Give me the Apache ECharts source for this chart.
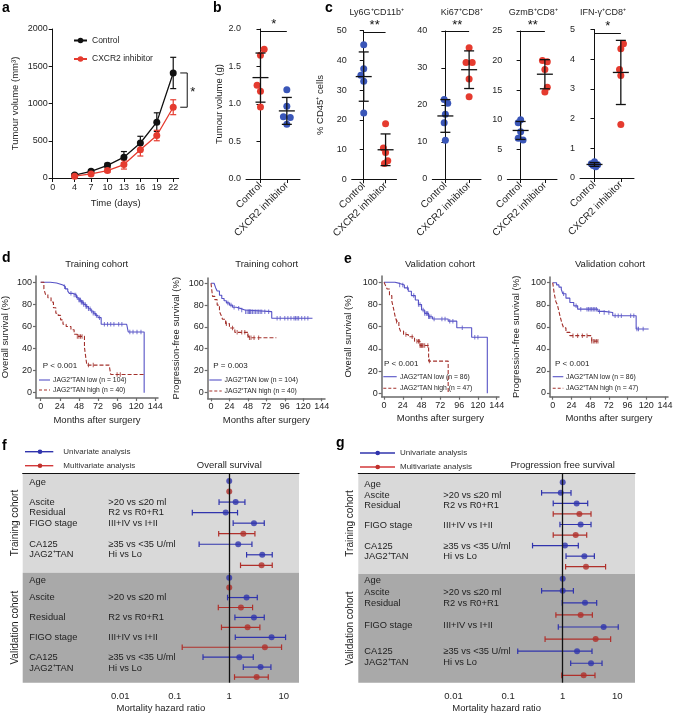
<!DOCTYPE html>
<html><head><meta charset="utf-8"><title>Figure</title>
<script src="https://cdn.jsdelivr.net/npm/echarts@6.0.0/dist/echarts.min.js"></script>
<style>html,body{margin:0;padding:0;background:#fff;}#chart{width:673px;height:715px;}</style>
</head><body><div id="chart"></div>
<script>
const FONT = '"Liberation Sans", Arial, Helvetica, sans-serif';
const TXT = '#1e1e1e';
const RED = '#e53b2f', BLUE = '#3a56b8';
const KM_BLUE = '#5652c6', KM_RED = '#a3302b';
const F_BLUE = '#3034ad', F_RED = '#b0302b';

// ---------------- DATA ----------------
// Panel a: tumour growth
const aDays = [4, 7, 10, 13, 16, 19, 22];
const aXTicks = [0, 4, 7, 10, 13, 16, 19, 22];
const aControl = [40, 90, 170, 280, 470, 750, 1410];
const aControlErr = [20, 22, 28, 75, 90, 125, 210];
const aInhib = [25, 55, 100, 180, 380, 570, 950];
const aInhibErr = [15, 18, 25, 60, 85, 70, 100];

// Panel b / c: dot plots
const groups = ['Control', 'CXCR2 inhibitor'];
const bControl = [1.73, 1.65, 1.25, 1.17, 0.96];
const bControlJ = [0.14, 0, -0.13, 0, 0];
const bInhib = [1.19, 0.97, 0.83, 0.82, 0.73];
const bInhibJ = [0, 0, -0.13, 0.13, 0];
const cTitles = ['Ly6G⁺CD11b⁺', 'Ki67⁺CD8⁺', 'GzmB⁺CD8⁺', 'IFN-γ⁺CD8⁺'];
const c1Control = [45.3, 37.2, 35.0, 33.0, 22.3], c1ControlJ = [0, 0, -0.13, 0, 0];
const c1Inhib = [18.7, 10.5, 9.0, 6.2, 5.3], c1InhibJ = [0, -0.1, 0, 0.1, -0.05];
const c2Control = [21.5, 20.5, 17.5, 15.2, 10.5], c2ControlJ = [-0.05, 0.1, 0, -0.05, 0];
const c2Inhib = [35.5, 31.5, 31.5, 27.0, 22.2], c2InhibJ = [0, -0.13, 0.13, 0, 0];
const c3Control = [10.0, 9.5, 8.0, 6.9, 6.6], c3ControlJ = [0, -0.1, 0, -0.1, 0.1];
const c3Inhib = [20.0, 19.8, 18.5, 15.5, 14.7], c3InhibJ = [-0.1, 0.1, 0, 0.1, 0];
const c4Control = [0.55, 0.48, 0.45, 0.42, 0.38], c4ControlJ = [0, -0.12, 0.12, -0.05, 0.05];
const c4Inhib = [4.52, 4.35, 3.65, 3.45, 1.80], c4InhibJ = [0.1, 0, -0.05, 0, 0];

// Panels d / e: Kaplan-Meier curves [month, survival %]
const kmXTicks = [0, 24, 48, 72, 96, 120, 144];
const kmYTicks = [0, 20, 40, 60, 80, 100];
const d1Low = [[0,100],[12,99.3],[20,98.5],[24,97.5],[28,96],[31,94],[34,92],[36,90],[40,88.5],[45,86],[48,84],[51,82],[54,80],[57,78],[60,76],[63,74],[66,72],[69,70],[72,68],[76,62],[108,62],[110,55],[130,55],[130,0]];
const d1High = [[0,100],[4,94],[6,89],[9,86],[13,82],[16,77],[19,72],[22,70],[25,66],[28,62],[32,60],[38,57],[42,53],[46,51],[55,41],[57,30],[58,25],[86,25],[88,16.5],[130,16.5]];
const d1LowCens = [30,38,42,44,46,48,49,50,51,52,53,54,56,57,58,60,62,64,66,68,70,74,80,84,88,92,98,102,112,116,121,126];
const d1HighCens = [46,48,50,52,60,66,96,100];
const d2Low = [[0,100],[4,98.5],[6,96],[8,93],[11,89],[14,86],[17,84],[20,82],[24,80],[28,78],[33,77],[38,75.5],[44,74],[79,68],[132,68]];
const d2High = [[0,100],[1,94],[2,88],[5,85],[8,80],[11,74],[13,71],[15,67],[19,63],[24,59],[31,55],[48,52],[50,50],[85,50]];
const d2LowCens = [22,26,30,36,40,45,47,49,50,51,52,54,56,58,60,62,64,66,70,75,86,90,96,100,104,108,110,112,114,118,122,126];
const d2HighCens = [20,28,34,40,44,48,50,52,56,62];
const e1Low = [[0,100],[14,99],[20,97.5],[26,95],[31,92],[35,88],[40,84],[44,80],[48,75],[52,72],[57,69],[62,67],[82,65],[93,59],[112,50.5],[132,50.5],[132,0]];
const e1High = [[0,100],[2,97],[4,94],[7,88],[10,83],[12,77],[14,70],[16,65],[19,60],[21,56],[25,53],[31,51],[39,47],[46,43],[57,29],[82,29],[82,0]];
const e1LowCens = [20,24,30,38,44,46,50,52,54,55,56,57,58,60,64,74,78,84,88,100,116,120];
const e1HighCens = [16,28,36,42,44,45,46,47,48,49,50,52,56,58];
const e2Low = [[0,100],[5,98],[8,96],[11,94],[13,90],[17,86],[22,82],[27,79],[32,76],[58,74],[66,73],[77,70],[107,58],[123,58]];
const e2High = [[0,100],[1,95],[2,90],[4,83],[6,80],[8,74],[10,68],[12,63],[14,59],[17,55],[22,52],[50,47],[60,47]];
const e2LowCens = [14,30,36,44,46,48,50,52,54,56,60,66,72,80,84,88,100,104,108,110,116];
const e2HighCens = [26,32,38,44,50,52,54,56,58];

// Panels f / g: forest plots [row, HR, lower, upper]
const fTrainUni = [[0,1.00,1.00,1.00],[2,1.31,0.65,1.94],[3,0.86,0.21,1.42],[4,2.84,1.18,4.39],[6,1.46,0.28,2.61],[7,4.03,2.08,6.15]];
const fTrainMulti = [[1,1.00,1.00,1.00],[5,1.81,0.64,2.96],[8,3.92,1.61,6.15]];
const fValUni = [[0,1.00,1.00,1.00],[2,2.08,0.93,3.27],[4,2.84,1.27,4.39],[6,5.98,1.29,10.8],[8,1.53,0.33,2.76],[9,3.76,1.81,5.82]];
const fValMulti = [[1,1.00,1.00,1.00],[3,1.64,0.63,2.68],[5,2.17,0.72,3.65],[7,4.51,0.137,9.12],[10,3.18,1.25,5.20]];
const gTrainUni = [[0,1.00,1.00,1.00],[1,0.92,0.41,1.42],[2,1.80,0.67,2.87],[4,2.13,0.89,3.30],[6,1.10,0.28,1.93],[7,2.49,1.15,3.80]];
const gTrainMulti = [[3,2.02,0.67,3.30],[5,1.73,0.67,2.75],[8,2.67,1.13,6.10]];
const gValUni = [[0,1.00,1.00,1.00],[1,1.00,0.41,1.57],[2,2.56,0.98,4.19],[4,5.62,0.83,10.4],[6,1.83,0.15,3.44],[7,3.30,1.40,5.25]];
const gValMulti = [[3,2.13,0.75,3.49],[5,4.01,0.475,7.55],[8,2.42,0.96,3.90]];
const fLabelsTrain = [['Age','',0.1],['Ascite','>20 vs ≤20 ml',2],['Residual','R2 vs R0+R1',3],['FIGO stage','III+IV vs I+II',4],['CA125','≥35 vs <35 U/ml',6],['JAG2⁺TAN','Hi vs Lo',7]];
const fLabelsVal = [['Age','',0.25],['Ascite','>20 vs ≤20 ml',2],['Residual','R2 vs R0+R1',4],['FIGO stage','III+IV vs I+II',6],['CA125','≥35 vs <35 U/ml',8],['JAG2⁺TAN','Hi vs Lo',9.1]];
const gLabelsTrain = [['Age','',0.2],['Ascite','>20 vs ≤20 ml',1.2],['Residual','R2 vs R0+R1',2.2],['FIGO stage','III+IV vs I+II',4.1],['CA125','≥35 vs <35 U/ml',6.05],['JAG2⁺TAN','Hi vs Lo',7.05]];
const gLabelsVal = [['Age','',0.15],['Ascite','>20 vs ≤20 ml',1.1],['Residual','R2 vs R0+R1',2.05],['FIGO stage','III+IV vs I+II',3.9],['CA125','≥35 vs <35 U/ml',6.0],['JAG2⁺TAN','Hi vs Lo',6.95]];

// ---------------- BUILD ----------------
const grids = [], xAxes = [], yAxes = [], series = [];
function addGrid(L, T, R, B, extra) {
  grids.push(Object.assign({left: L, top: T, width: R - L, height: B - T, containLabel: false, outerBoundsMode: 'none'}, extra || {}));
  return grids.length - 1;
}
const lbl = o => Object.assign({fontSize: 9, color: TXT, fontFamily: FONT}, o || {});
const blackLine = {color: '#111', width: 1};
const plain = v => String(v);

// ---- Panel a ----
const gA = addGrid(52.7, 29, 178.7, 178);
xAxes.push({gridIndex: gA, type: 'value', min: 0, max: 23,
  axisLine: {show: true, onZero: false, lineStyle: blackLine},
  axisTick: {show: true, customValues: aXTicks, length: 4, lineStyle: blackLine},
  axisLabel: lbl({customValues: aXTicks, margin: 5, formatter: plain}), splitLine: {show: false},
  name: 'Time (days)', nameLocation: 'middle', nameGap: 20, nameTextStyle: lbl({fontSize: 9.5})});
yAxes.push({gridIndex: gA, type: 'value', min: 0, max: 2000, interval: 500,
  axisLine: {show: true, lineStyle: blackLine}, axisTick: {show: true, length: 4, lineStyle: blackLine},
  axisLabel: lbl({margin: 5, formatter: plain}), splitLine: {show: false},
  name: 'Tumour volume (mm³)', nameLocation: 'middle', nameGap: 32, nameTextStyle: lbl({fontSize: 9.5})});
function errSeries(g, xs, ys, es, color) {
  return {type: 'custom', xAxisIndex: g, yAxisIndex: g, z: 2, silent: true,
    data: xs.map((x, i) => [x, ys[i] - es[i], ys[i] + es[i]]),
    encode: {x: 0, y: [1, 2]},
    renderItem: (p, api) => {
      const a = api.coord([api.value(0), api.value(1)]), b = api.coord([api.value(0), api.value(2)]);
      const w = 3, st = {stroke: color, lineWidth: 1.2};
      return {type: 'group', children: [
        {type: 'line', shape: {x1: a[0], y1: a[1], x2: b[0], y2: b[1]}, style: st},
        {type: 'line', shape: {x1: a[0] - w, y1: a[1], x2: a[0] + w, y2: a[1]}, style: st},
        {type: 'line', shape: {x1: b[0] - w, y1: b[1], x2: b[0] + w, y2: b[1]}, style: st}]};
    }};
}
series.push(errSeries(gA, aDays, aControl, aControlErr, '#111'));
series.push(errSeries(gA, aDays, aInhib, aInhibErr, RED));
series.push({type: 'line', name: 'Control', xAxisIndex: gA, yAxisIndex: gA, z: 3,
  data: aDays.map((d, i) => [d, aControl[i]]), symbol: 'circle', symbolSize: 7,
  itemStyle: {color: '#111'}, lineStyle: {color: '#111', width: 1.3}});
series.push({type: 'line', name: 'CXCR2 inhibitor', xAxisIndex: gA, yAxisIndex: gA, z: 3,
  data: aDays.map((d, i) => [d, aInhib[i]]), symbol: 'circle', symbolSize: 7,
  itemStyle: {color: RED}, lineStyle: {color: RED, width: 1.3}});

// ---- Panels b / c ----
function meanSd(a) {
  const m = a.reduce((s, v) => s + v, 0) / a.length;
  const sd = Math.sqrt(a.reduce((s, v) => s + (v - m) * (v - m), 0) / (a.length - 1));
  return [m, sd];
}
function dotPanel(o) {
  const g = addGrid(o.L, o.T, o.R, o.B);
  xAxes.push({gridIndex: g, type: 'value', min: -0.55, max: 1.5,
    axisLine: {show: true, onZero: false, lineStyle: blackLine},
    axisTick: {show: true, customValues: [0, 1], length: 4, lineStyle: blackLine},
    axisLabel: lbl({customValues: [0, 1], rotate: 45, fontSize: 10, margin: 5, formatter: v => groups[Math.round(v)]}),
    splitLine: {show: false}});
  yAxes.push({gridIndex: g, type: 'value', min: 0, max: o.yMax, interval: o.yInt,
    axisLine: {show: true, lineStyle: blackLine}, axisTick: {show: true, length: 4, lineStyle: blackLine},
    axisLabel: lbl({margin: 5, formatter: o.fmt || plain}), splitLine: {show: false},
    name: o.yName || '', nameLocation: 'middle', nameGap: o.nameGap || 25, nameTextStyle: lbl({fontSize: 9.5})});
  const sets = [[o.ctrl, o.ctrlJ, o.ctrlColor], [o.inh, o.inhJ, o.inhColor]];
  sets.forEach((s, k) => {
    const ser = {type: 'scatter', xAxisIndex: g, yAxisIndex: g, symbolSize: 7, z: 2,
      itemStyle: {color: s[2], opacity: 1}, data: s[0].map((v, i) => [k + s[1][i], v])};
    if (k === 0) ser.markLine = {silent: true, symbol: ['none', 'none'], animation: false,
      lineStyle: {color: '#111', width: 1, type: 'solid'},
      label: {show: true, position: 'middle', formatter: o.sig, fontSize: 13, color: '#111', distance: 0, fontFamily: FONT},
      data: [[{coord: [0, o.sigY]}, {coord: [1, o.sigY]}]]};
    series.push(ser);
  });
  series.push({type: 'custom', xAxisIndex: g, yAxisIndex: g, z: 4, silent: true,
    data: sets.map((s, k) => { const r = meanSd(s[0]); return [k, r[0], r[0] - r[1], r[0] + r[1]]; }),
    encode: {x: 0, y: [1, 2, 3]},
    renderItem: (p, api) => {
      const m = api.coord([api.value(0), api.value(1)]);
      const lo = api.coord([api.value(0), api.value(2)]), hi = api.coord([api.value(0), api.value(3)]);
      const st = {stroke: '#111', lineWidth: 1.3};
      return {type: 'group', children: [
        {type: 'line', shape: {x1: lo[0], y1: lo[1], x2: hi[0], y2: hi[1]}, style: st},
        {type: 'line', shape: {x1: m[0] - 8, y1: m[1], x2: m[0] + 8, y2: m[1]}, style: st},
        {type: 'line', shape: {x1: lo[0] - 5, y1: lo[1], x2: lo[0] + 5, y2: lo[1]}, style: st},
        {type: 'line', shape: {x1: hi[0] - 5, y1: hi[1], x2: hi[0] + 5, y2: hi[1]}, style: st}]};
    }});
}
dotPanel({L: 246, T: 29, R: 300, B: 179, yMax: 2, yInt: 0.5, fmt: v => v.toFixed(1), yName: 'Tumour volume (g)', nameGap: 21,
  ctrl: bControl, ctrlJ: bControlJ, inh: bInhib, inhJ: bInhibJ, ctrlColor: RED, inhColor: BLUE, sig: '*', sigY: 1.97});
dotPanel({L: 351.7, T: 30.7, R: 396.5, B: 179.3, yMax: 50, yInt: 10, yName: '% CD45⁺ cells', nameGap: 26,
  ctrl: c1Control, ctrlJ: c1ControlJ, inh: c1Inhib, inhJ: c1InhibJ, ctrlColor: BLUE, inhColor: RED, sig: '**', sigY: 49.5});
dotPanel({L: 432.3, T: 31, R: 481, B: 179, yMax: 40, yInt: 10,
  ctrl: c2Control, ctrlJ: c2ControlJ, inh: c2Inhib, inhJ: c2InhibJ, ctrlColor: BLUE, inhColor: RED, sig: '**', sigY: 39.8});
dotPanel({L: 507.3, T: 31, R: 557, B: 179, yMax: 25, yInt: 5,
  ctrl: c3Control, ctrlJ: c3ControlJ, inh: c3Inhib, inhJ: c3InhibJ, ctrlColor: BLUE, inhColor: RED, sig: '**', sigY: 24.9});
dotPanel({L: 580, T: 29.5, R: 634, B: 178, yMax: 5, yInt: 1,
  ctrl: c4Control, ctrlJ: c4ControlJ, inh: c4Inhib, inhJ: c4InhibJ, ctrlColor: BLUE, inhColor: RED, sig: '*', sigY: 4.88});

// ---- Panels d / e ----
function stepAt(curve, t) { let v = curve[0][1]; for (const p of curve) { if (p[0] <= t) v = p[1]; else break; } return v; }
function kmPanel(o) {
  const g = addGrid(o.L, o.T, o.R, o.B);
  const ppx = (o.x144 - o.x0) / 144, ppy = (o.y0 - o.y100) / 100;
  const gray = {color: '#6a6a6a', width: 1.5};
  xAxes.push({gridIndex: g, type: 'value', min: -(o.x0 - o.L) / ppx, max: 144 + (o.R - o.x144) / ppx,
    axisLine: {show: true, onZero: false, lineStyle: gray},
    axisTick: {show: true, customValues: kmXTicks, length: 3, lineStyle: {color: '#6a6a6a', width: 1.2}},
    axisLabel: lbl({customValues: kmXTicks, margin: 4, formatter: plain}), splitLine: {show: false},
    name: 'Months after surgery', nameLocation: 'middle', nameGap: 17, nameTextStyle: lbl({fontSize: 9.5})});
  yAxes.push({gridIndex: g, type: 'value', min: -(o.B - o.y0) / ppy, max: 100 + (o.y100 - o.T) / ppy,
    axisLine: {show: true, onZero: false, lineStyle: gray},
    axisTick: {show: true, customValues: kmYTicks, length: 3, lineStyle: {color: '#6a6a6a', width: 1.2}},
    axisLabel: lbl({customValues: kmYTicks, margin: 4, formatter: plain}), splitLine: {show: false},
    name: o.yName, nameLocation: 'middle', nameGap: o.nameGap, nameTextStyle: lbl({fontSize: 9.5})});
  series.push({type: 'line', xAxisIndex: g, yAxisIndex: g, step: 'end', symbol: 'none', data: o.low,
    lineStyle: {color: KM_BLUE, width: 1.1}, z: 3, silent: true});
  series.push({type: 'line', xAxisIndex: g, yAxisIndex: g, step: 'end', symbol: 'none', data: o.high,
    lineStyle: {color: KM_RED, width: 1.1, type: [4, 2]}, z: 3, silent: true});
  series.push({type: 'scatter', xAxisIndex: g, yAxisIndex: g, symbol: 'rect', symbolSize: [1, 4.5], silent: true, z: 4,
    itemStyle: {color: KM_BLUE}, data: o.lowC.map(t => [t, stepAt(o.low, t)])});
  series.push({type: 'scatter', xAxisIndex: g, yAxisIndex: g, symbol: 'rect', symbolSize: [1, 4.5], silent: true, z: 4,
    itemStyle: {color: KM_RED}, data: o.highC.map(t => [t, stepAt(o.high, t)])});
}
kmPanel({L: 36, T: 276, R: 158, B: 398, x0: 40.7, x144: 155.3, y100: 282.3, y0: 392.7, yName: 'Overall survival (%)', nameGap: 25.5,
  low: d1Low, high: d1High, lowC: d1LowCens, highC: d1HighCens});
kmPanel({L: 207.7, T: 278, R: 325, B: 398.3, x0: 211, x144: 321.7, y100: 283.3, y0: 392.3, yName: 'Progression-free survival (%)', nameGap: 26,
  low: d2Low, high: d2High, lowC: d2LowCens, highC: d2HighCens});
kmPanel({L: 381.7, T: 276, R: 499, B: 396.7, x0: 384, x144: 496.7, y100: 282.3, y0: 393.3, yName: 'Overall survival (%)', nameGap: 28.5,
  low: e1Low, high: e1High, lowC: e1LowCens, highC: e1HighCens});
kmPanel({L: 550, T: 277, R: 668, B: 396.7, x0: 552.7, x144: 665, y100: 282.7, y0: 393, yName: 'Progression-free survival (%)', nameGap: 28.5,
  low: e2Low, high: e2High, lowC: e2LowCens, highC: e2HighCens});

// ---- Panels f / g ----
const hrLabels = {'-2': '0.01', '-1': '0.1', '0': '1', '1': '10'};
function ciSeries(g, data, color) {
  return {type: 'custom', xAxisIndex: g, yAxisIndex: g, z: 2, silent: true,
    data: data.map(d => [d[1], d[0], d[2], d[3]]), encode: {x: [0, 2, 3], y: 1},
    renderItem: (p, api) => {
      if (api.value(2) === api.value(3)) return {type: 'group', children: []};
      const a = api.coord([api.value(2), api.value(1)]), b = api.coord([api.value(3), api.value(1)]);
      const h = 2.8, st = {stroke: color, lineWidth: 1.2};
      return {type: 'group', children: [
        {type: 'line', shape: {x1: a[0], y1: a[1], x2: b[0], y2: b[1]}, style: st},
        {type: 'line', shape: {x1: a[0], y1: a[1] - h, x2: a[0], y2: a[1] + h}, style: st},
        {type: 'line', shape: {x1: b[0], y1: b[1] - h, x2: b[0], y2: b[1] + h}, style: st}]};
    }};
}
function forestGrid(o) {
  const g = addGrid(o.L, o.T, o.R, o.B, {show: true, backgroundColor: o.bg, borderWidth: 0});
  xAxes.push({gridIndex: g, type: 'log', logBase: 10, min: Math.pow(10, o.logMin), max: Math.pow(10, o.logMax),
    position: o.top ? 'top' : 'bottom',
    axisLine: {show: !!o.top, onZero: false, lineStyle: {color: '#111', width: 1.2}},
    axisTick: {show: false}, splitLine: {show: false}, minorTick: {show: false},
    axisLabel: o.top ? {show: false} : lbl({fontSize: 9.5, margin: 9, showMinLabel: true, showMaxLabel: true,
      formatter: v => { const e = Math.log10(v), r = Math.round(e); return Math.abs(e - r) < 1e-6 && hrLabels[r] ? hrLabels[r] : ''; }}),
    name: o.top ? '' : 'Mortality hazard ratio', nameLocation: 'middle', nameGap: 21, nameTextStyle: lbl({fontSize: 9.5})});
  yAxes.push({gridIndex: g, type: 'value', inverse: true, min: o.rowMin, max: o.rowMax, show: false});
  series.push(ciSeries(g, o.uni, F_BLUE));
  series.push(ciSeries(g, o.multi, F_RED));
  series.push({type: 'scatter', xAxisIndex: g, yAxisIndex: g, symbolSize: 6, z: 3, silent: true,
    itemStyle: {color: F_BLUE}, data: o.uni.map(d => [d[1], d[0]]),
    markLine: {silent: true, symbol: ['none', 'none'], animation: false, label: {show: false},
      lineStyle: {color: '#111', width: 1.3, type: 'solid'}, data: [{xAxis: 1}]}});
  series.push({type: 'scatter', xAxisIndex: g, yAxisIndex: g, symbolSize: 6, z: 3, silent: true,
    itemStyle: {color: F_RED}, data: o.multi.map(d => [d[1], d[0]])});
  return g;
}
const gFT = forestGrid({L: 22.7, R: 299, T: 473.3, B: 572.7, logMin: -3.79, logMax: 1.28, rowMin: -0.73, rowMax: 8.7, bg: '#d9d9d9', top: true, uni: fTrainUni, multi: fTrainMulti});
const gFV = forestGrid({L: 22.7, R: 299, T: 572.7, B: 682.7, logMin: -3.79, logMax: 1.28, rowMin: -0.5, rowMax: 10.57, bg: '#a9a9a9', top: false, uni: fValUni, multi: fValMulti});
const gGT = forestGrid({L: 358.3, R: 635, T: 473.3, B: 574, logMin: -3.744, logMax: 1.324, rowMin: -0.85, rowMax: 8.69, bg: '#d9d9d9', top: true, uni: gTrainUni, multi: gTrainMulti});
const gGV = forestGrid({L: 358.3, R: 635, T: 574, B: 682.7, logMin: -3.744, logMax: 1.324, rowMin: -0.39, rowMax: 8.61, bg: '#a9a9a9', top: false, uni: gValUni, multi: gValMulti});

const option = {
  animation: false,
  backgroundColor: '#fff',
  textStyle: {fontFamily: FONT},
  grid: grids, xAxis: xAxes, yAxis: yAxes, series: series,
  legend: [{data: ['Control', 'CXCR2 inhibitor'], left: 68, top: 31, orient: 'vertical', itemGap: 9.5,
    itemWidth: 13, itemHeight: 7, selectedMode: false, textStyle: {fontSize: 8.5, color: TXT, fontFamily: FONT}}]
};
const chart = echarts.init(document.getElementById('chart'), null, {renderer: 'canvas'});
chart.setOption(option);

// ---------------- annotations (text / legends) ----------------
function T(x, y, text, o) {
  o = o || {};
  const st = {text: text, fill: o.color || TXT, fontSize: o.size || 9, fontFamily: FONT, fontWeight: o.weight || 'normal',
    align: o.align || 'left', verticalAlign: o.valign || 'middle', textAlign: o.align || 'left', textVerticalAlign: o.valign || 'middle'};
  if (o.rich) st.rich = o.rich;
  return {type: 'text', x: x, y: y, rotation: o.rot || 0, silent: true, z: 100, style: st};
}
function Ln(x1, y1, x2, y2, color, w, dash) {
  return {type: 'line', silent: true, z: 100, shape: {x1: x1, y1: y1, x2: x2, y2: y2}, style: {stroke: color, lineWidth: w || 1, lineDash: dash || null}};
}
function Ci(x, y, r, color) { return {type: 'circle', silent: true, z: 100, shape: {cx: x, cy: y, r: r}, style: {fill: color}}; }
const gfx = [];
// panel letters
[['a', 2, 8], ['b', 213, 8], ['c', 325, 8], ['d', 2, 258], ['e', 344, 259], ['f', 2, 446.5], ['g', 336, 443]].forEach(p =>
  gfx.push(T(p[1], p[2], p[0], {size: 14, weight: 'bold', color: '#000'})));
// c titles
[376.7, 461.7, 533.3, 603].forEach((x, i) => gfx.push(T(x, 13, cTitles[i], {align: 'center', size: 9})));
// a bracket
const pc = chart.convertToPixel({gridIndex: gA}, [aDays[6], aControl[6]]);
const pi = chart.convertToPixel({gridIndex: gA}, [aDays[6], aInhib[6]]);
const bx = pc[0] + 14;
gfx.push(Ln(bx, pc[1], bx, pi[1], '#111', 1), Ln(bx - 7, pc[1], bx, pc[1], '#111', 1), Ln(bx - 7, pi[1], bx, pi[1], '#111', 1));
gfx.push(T(bx + 3, (pc[1] + pi[1]) / 2 + 2, '*', {size: 13, color: '#111'}));
// KM titles, P values, legends
const ital = {i: {fontStyle: 'italic'}};
[[96.7, 'Training cohort'], [266.7, 'Training cohort'], [440, 'Validation cohort'], [610, 'Validation cohort']].forEach(t =>
  gfx.push(T(t[0], 264.3, t[1], {align: 'center', size: 9.5})));
[[42.7, 365.7, '{i|P} < 0.001'], [213.3, 365.7, '{i|P} = 0.003'], [384, 364, '{i|P} < 0.001'], [555, 364, '{i|P} < 0.001']].forEach(t =>
  gfx.push(T(t[0], t[1], t[2], {size: 8, rich: ital})));
[[39, 50, 53, 380, 390, 104, 40], [209.3, 221.7, 224.5, 380, 391, 104, 40], [383.3, 396.7, 400, 376.7, 388.3, 86, 47], [552.7, 563.3, 566, 376.7, 388.3, 86, 47]].forEach(k => {
  gfx.push(Ln(k[0], k[3], k[1], k[3], KM_BLUE, 1.1));
  gfx.push(Ln(k[0], k[4], k[1], k[4], KM_RED, 1.1, [3, 2]));
  gfx.push(T(k[2], k[3], 'JAG2⁺TAN low ({i|n} = ' + k[5] + ')', {size: 6.8, rich: ital}));
  gfx.push(T(k[2], k[4], 'JAG2⁺TAN high ({i|n} = ' + k[6] + ')', {size: 6.8, rich: ital}));
});
// forest legends and titles
[[25, 53.3, 40, 451.7, 465.7, 63.3], [360, 395, 377.7, 453, 467, 400]].forEach(k => {
  gfx.push(Ln(k[0], k[3], k[1], k[3], F_BLUE, 1.4), Ci(k[2], k[3], 2.3, F_BLUE));
  gfx.push(Ln(k[0], k[4], k[1], k[4], '#d3393a', 1.4), Ci(k[2], k[4], 2.3, '#c0302c'));
  gfx.push(T(k[5], k[3], 'Univariate analysis', {size: 8, color: '#333'}));
  gfx.push(T(k[5], k[4], 'Multivariate analysis', {size: 8, color: '#333'}));
});
gfx.push(T(229.3, 465.7, 'Overall survival', {align: 'center', size: 9.5}));
gfx.push(T(562.7, 465, 'Progression free survival', {align: 'center', size: 9.5}));
[[15, 523, 'Training cohort'], [15, 627.7, 'Validation cohort'], [350, 523.5, 'Training cohort'], [350, 628.3, 'Validation cohort']].forEach(t =>
  gfx.push(T(t[0], t[1], t[2], {align: 'center', size: 10, rot: Math.PI / 2})));
// forest row labels
[[gFT, fLabelsTrain, 29.3, 108.3], [gFV, fLabelsVal, 29.3, 108.3], [gGT, gLabelsTrain, 364.3, 443.3], [gGV, gLabelsVal, 364.3, 443.3]].forEach(s => {
  s[1].forEach(r => {
    const y = chart.convertToPixel({gridIndex: s[0]}, [1, r[2]])[1];
    gfx.push(T(s[2], y, r[0], {size: 9.3}));
    if (r[1]) gfx.push(T(s[3], y, r[1], {size: 9.3}));
  });
});
chart.setOption({graphic: {elements: gfx}});
</script></body></html>
